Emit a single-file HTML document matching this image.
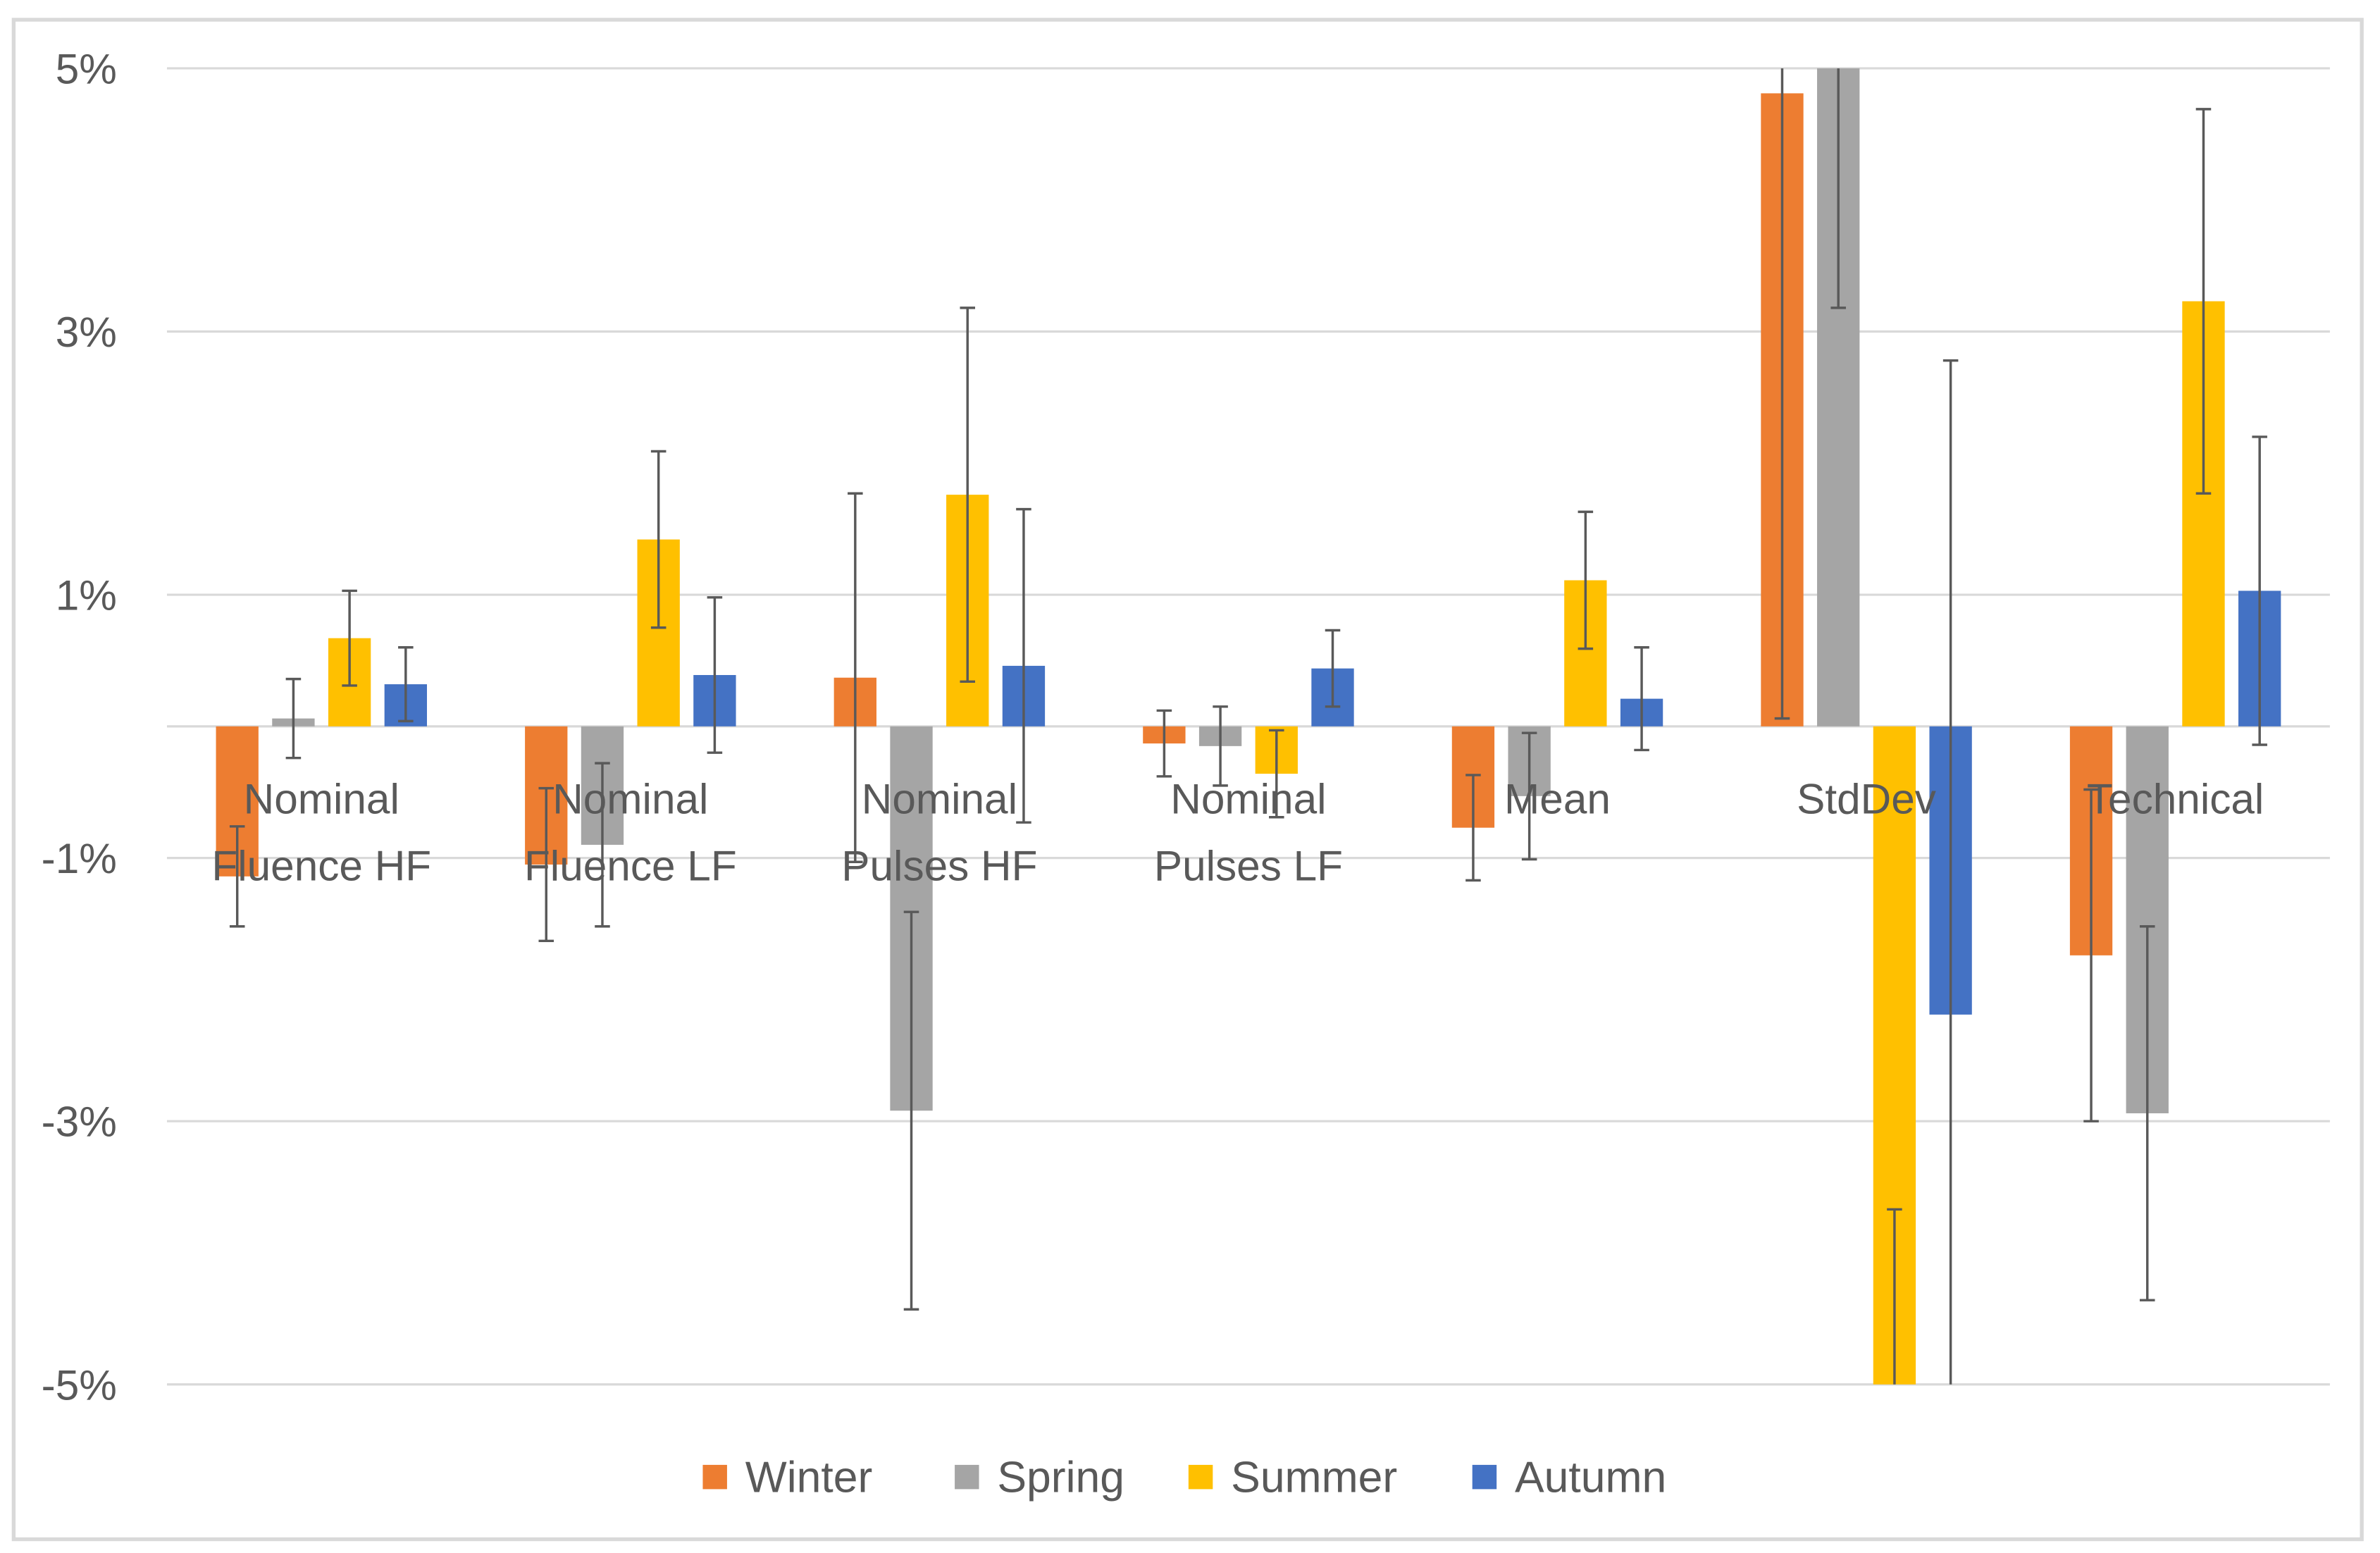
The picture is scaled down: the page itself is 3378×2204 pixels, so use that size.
<!DOCTYPE html>
<html><head><meta charset="utf-8"><style>
html,body{margin:0;padding:0;background:#fff;}
svg{display:block;}
text{font-family:"Liberation Sans",sans-serif;fill:#595959;}
</style></head><body>
<svg id="chart" width="3378" height="2204" viewBox="0 0 1568 1023.06" xmlns="http://www.w3.org/2000/svg">
<rect x="9" y="13" width="1547" height="1001" fill="#fff" stroke="#d9d9d9" stroke-width="2.5"/>
<g id="grid"></g><g id="bars"></g><g id="errs"></g><g id="labels"></g><g id="legend"></g>
</svg>
<script>
const categories=[["Nominal","Fluence HF"],["Nominal","Fluence LF"],["Nominal","Pulses HF"],["Nominal","Pulses LF"],["Mean"],["StdDev"],["Technical"]];
const seriesNames=["Winter","Spring","Summer","Autumn"];
const colors=["#ed7d31","#a5a5a5","#ffc000","#4472c4"];
const winter=[-1.14,-1.05,0.37,-0.13,-0.77,4.81,-1.74];
const spring=[0.06,-0.9,-2.92,-0.15,-0.53,5.3,-2.94];
const summer=[0.67,1.42,1.76,-0.36,1.11,-5.4,3.23];
const autumn=[0.32,0.39,0.46,0.44,0.21,-2.19,1.03];
const winterErr=[0.38,0.58,1.4,0.25,0.4,4.75,1.26];
const springErr=[0.3,0.62,1.51,0.3,0.48,2.12,1.42];
const summerErr=[0.36,0.67,1.42,0.33,0.52,1.73,1.46];
const autumnErr=[0.28,0.59,1.19,0.29,0.39,4.97,1.17];
const yTicks=[5,3,1,-1,-3,-5];
const gridVals=[5,3,1,0,-1,-3,-5];
const values=[winter,spring,summer,autumn];
const errs=[winterErr,springErr,summerErr,autumnErr];
const NS="http://www.w3.org/2000/svg";
const L=110,R=1535,T=45,B=912,ymin=-5,ymax=5;
function y(v){return B-(v-ymin)/(ymax-ymin)*(B-T);}
function clip(v){return Math.max(ymin,Math.min(ymax,v));}
const cw=(R-L)/categories.length,bw=28,gap=9;
function x(ci,si){return L+cw*ci+cw/2-(4*bw+3*gap)/2+si*(bw+gap);}
function mk(tag,attrs,parent){const e=document.createElementNS(NS,tag);for(const k in attrs)e.setAttribute(k,attrs[k]);document.getElementById(parent).appendChild(e);return e;}
gridVals.forEach(v=>{const l=mk("line",{x1:L,x2:R,y1:y(v),y2:y(v),stroke:"#d9d9d9","stroke-width":1.5},"grid");

});
yTicks.forEach(v=>{const t=mk("text",{x:77,y:y(v)+10,"text-anchor":"end","font-size":28},"labels");t.textContent=v+"%";

});
values.forEach((arr,si)=>{arr.forEach((v,ci)=>{
 const a=y(clip(v)),b=y(0);
 const r=mk("rect",{x:x(ci,si),y:Math.min(a,b),width:bw,height:Math.abs(a-b),fill:colors[si]},"bars");
 
 
 const cx=x(ci,si)+bw/2,e=errs[si][ci];
 const hi=v+e,lo=v-e,yh=y(clip(hi)),yl=y(clip(lo));
 const ln=mk("line",{x1:cx,x2:cx,y1:yh,y2:yl,stroke:"#595959","stroke-width":1.6},"errs");
 
 
 if(hi<=ymax){const c=mk("line",{x1:cx-5,x2:cx+5,y1:yh,y2:yh,stroke:"#595959","stroke-width":1.6},"errs");
  
  }
 if(lo>=ymin){const c=mk("line",{x1:cx-5,x2:cx+5,y1:yl,y2:yl,stroke:"#595959","stroke-width":1.6},"errs");
  
  }
});});
categories.forEach((lines,ci)=>{const cx=L+cw*ci+cw/2;lines.forEach((s,li)=>{
 const t=mk("text",{x:cx,y:536+li*44,"text-anchor":"middle","font-size":28},"labels");t.textContent=s;
 
 });});
const legX=[463,629,783,970];
seriesNames.forEach((n,i)=>{
 const r=mk("rect",{x:legX[i],y:965,width:16,height:16,fill:colors[i]},"legend");
 
 
 const t=mk("text",{x:legX[i]+28,y:983,"font-size":29},"legend");t.textContent=n;
 
 
});
</script>
</body></html>
